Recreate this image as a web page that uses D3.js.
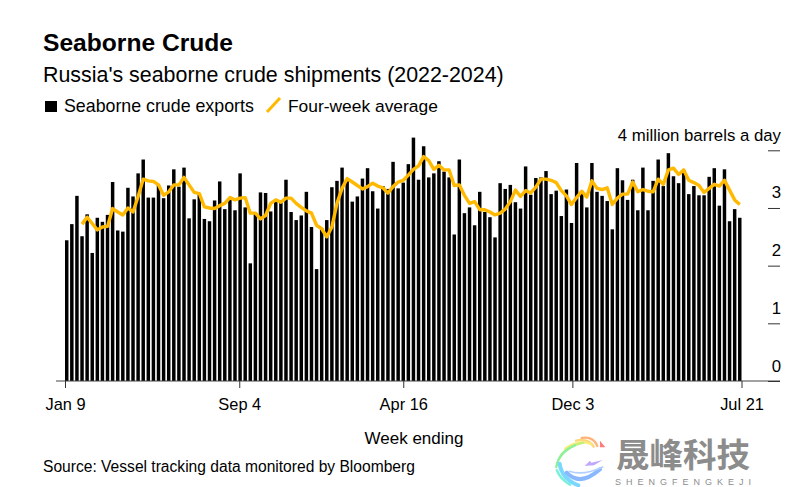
<!DOCTYPE html>
<html>
<head>
<meta charset="utf-8">
<script src="https://cdn.jsdelivr.net/npm/d3@7"></script>
<style>
	html, body { margin: 0; padding: 0; background: #fff; }
	svg { display: block; }
	text { font-family: "Liberation Sans", Arial, sans-serif; fill: #000; }
</style>
</head>
<body>
<svg width="806" height="487"></svg>
<script>
// Weekly exports, million barrels a day.
var exports_values = [
	2.44, 2.72, 3.21, 2.51, 2.89, 2.22, 2.83, 2.76, 2.88, 3.45, 2.61, 2.59, 3.35, 3.20, 3.60, 3.84, 3.18, 3.18, 3.40,
	3.17, 3.39, 3.67, 3.37, 3.70, 2.82, 3.15, 3.25, 2.81, 2.77, 3.13, 3.46, 2.98, 3.14, 2.96, 3.60, 3.01, 2.04, 2.92,
	3.27, 3.26, 2.94, 3.11, 3.09, 3.49, 2.93, 2.79, 2.87, 3.28, 2.67, 1.94, 2.65, 2.79, 3.36, 3.47, 3.70, 3.48, 3.11,
	3.20, 3.51, 3.69, 3.29, 2.99, 3.38, 3.33, 3.80, 3.34, 3.44, 3.76, 4.22, 3.49, 4.07, 3.53, 3.60, 3.81, 3.63, 3.53,
	2.54, 3.84, 2.91, 3.01, 2.70, 3.28, 2.93, 2.84, 2.49, 3.43, 3.33, 3.40, 3.10, 2.99, 3.72, 3.23, 3.52, 3.53, 3.64,
	3.24, 3.30, 2.86, 3.32, 2.74, 3.78, 3.25, 3.01, 3.78, 3.28, 3.21, 3.12, 2.63, 3.69, 3.48, 3.14, 3.49, 2.96, 3.70,
	2.96, 3.47, 3.84, 3.38, 3.95, 3.55, 3.43, 3.66, 3.24, 3.38, 3.22, 3.22, 3.54, 3.69, 3.04, 3.67, 2.77, 2.98, 2.83
];

// Four-week average. The first three weeks have no value.
var average_values = [
	null, null, null,
	2.72, 2.84, 2.73, 2.62, 2.67, 2.68, 2.99, 2.93, 2.88, 3.00, 2.93, 3.20, 3.50, 3.47, 3.46, 3.40, 3.22, 3.28, 3.40,
	3.40, 3.53, 3.40, 3.27, 3.25, 3.02, 3.00, 2.99, 3.04, 3.08, 3.18, 3.14, 3.17, 3.18, 2.91, 2.91, 2.81, 2.87, 3.08,
	3.14, 3.10, 3.17, 3.17, 3.08, 3.01, 2.95, 2.91, 2.70, 2.64, 2.50, 2.67, 3.08, 3.34, 3.51, 3.45, 3.39, 3.33, 3.37,
	3.43, 3.38, 3.35, 3.26, 3.37, 3.45, 3.48, 3.57, 3.67, 3.73, 3.89, 3.82, 3.67, 3.74, 3.66, 3.66, 3.39, 3.40, 3.22,
	3.08, 3.11, 2.97, 2.97, 2.93, 2.88, 2.91, 2.98, 3.11, 3.31, 3.20, 3.30, 3.26, 3.36, 3.50, 3.50, 3.48, 3.44, 3.30,
	3.21, 3.06, 3.18, 3.29, 3.19, 3.47, 3.34, 3.32, 3.35, 3.06, 3.17, 3.24, 3.24, 3.45, 3.28, 3.32, 3.29, 3.28, 3.50,
	3.41, 3.66, 3.69, 3.58, 3.66, 3.48, 3.44, 3.39, 3.27, 3.34, 3.41, 3.38, 3.48, 3.31, 3.14, 3.06
];

var x_tick_weeks = [0, 34, 66, 99, 132];
var x_tick_labels = ["Jan 9", "Sep 4", "Apr 16", "Dec 3", "Jul 21"];
var y_ticks = [0, 1, 2, 3, 4];
var y_tick_labels = ["0", "1", "2", "3", "4 million barrels a day"];

var svg = d3.select("svg");

// Scales.
var x = d3.scaleBand()
	.domain(d3.range(exports_values.length))
	.range([65, 741.5])
	.paddingInner(0.32);
var x_ticks = d3.scaleLinear().domain([0, 132]).range([65, 741.5]);
var y = d3.scaleLinear().domain([0, 4]).range([381, 150.3]);

// Bars.
svg.append("g")
	.selectAll("rect")
	.data(exports_values)
	.enter()
	.append("rect")
	.attr("x", function(d, i) { return x(i); })
	.attr("y", function(d) { return y(d); })
	.attr("width", x.bandwidth())
	.attr("height", function(d) { return y(0) - y(d); })
	.attr("fill", "#000");

// Baseline.
svg.append("line")
	.attr("x1", 56)
	.attr("x2", 780)
	.attr("y1", y(0))
	.attr("y2", y(0))
	.attr("stroke", "#444")
	.attr("stroke-width", 1);

// Four-week average.
var line = d3.line()
	.defined(function(d) { return d !== null; })
	.x(function(d, i) { return x(i) + x.bandwidth() / 2; })
	.y(function(d) { return y(d); });

svg.append("path")
	.datum(average_values)
	.attr("d", line)
	.attr("fill", "none")
	.attr("stroke", "#ffb900")
	.attr("stroke-width", 3.4)
	.attr("stroke-linejoin", "round");

// X axis.
var x_axis = svg.append("g")
	.attr("transform", "translate(0,381)")
	.call(d3.axisBottom(x_ticks)
		.tickValues(x_tick_weeks)
		.tickFormat(function(d, i) { return x_tick_labels[i]; })
		.tickSize(7)
		.tickPadding(10));
x_axis.select(".domain").remove();
x_axis.selectAll("line").attr("stroke", "#333");
x_axis.selectAll("text").style("font-size", "16.4px").style("font-family", "\"Liberation Sans\", Arial, sans-serif");

// Y axis. Labels sit on top of the tick marks.
var y_axis = svg.append("g")
	.attr("transform", "translate(768,0)")
	.call(d3.axisRight(y)
		.tickValues(y_ticks)
		.tickFormat(function(d, i) { return y_tick_labels[i]; })
		.tickSize(12));
y_axis.select(".domain").remove();
y_axis.selectAll("line").attr("stroke", "#333");
y_axis.selectAll("text")
	.attr("x", 13)
	.attr("dy", -10)
	.attr("text-anchor", "end")
	.style("font-size", "16.8px")
	.style("font-family", "\"Liberation Sans\", Arial, sans-serif");

// Title block.
svg.append("text").attr("x", 43).attr("y", 51).text("Seaborne Crude")
	.style("font-size", "24.6px").style("font-weight", "bold");
svg.append("text").attr("x", 43).attr("y", 82).text("Russia's seaborne crude shipments (2022-2024)")
	.style("font-size", "21.4px");

// Legend.
svg.append("rect").attr("x", 45).attr("y", 101).attr("width", 12).attr("height", 11).attr("fill", "#000");
svg.append("text").attr("x", 64).attr("y", 112).text("Seaborne crude exports").style("font-size", "17.8px");
svg.append("line").attr("x1", 267).attr("y1", 112).attr("x2", 280).attr("y2", 98)
	.attr("stroke", "#ffb900").attr("stroke-width", 3);
svg.append("text").attr("x", 288).attr("y", 112).text("Four-week average").style("font-size", "17.4px");

// Footer.
svg.append("text").attr("x", 414).attr("y", 444).attr("text-anchor", "middle").text("Week ending")
	.style("font-size", "17px");
svg.append("text").attr("x", 43).attr("y", 472).text("Source: Vessel tracking data monitored by Bloomberg")
	.style("font-size", "15.6px");

// Watermark logo, drawn at 3x and scaled down.
var logo_strokes = [
	["M95,18 Q130,12 142,42", "#ffb27a", 7],
	["M78,26 Q115,18 131,44", "#ffd77a", 7],
	["M45,50 Q85,22 122,36", "#f5ee7a", 7],
	["M28,80 Q42,45 100,32", "#c4f07a", 7],
	["M19,105 Q25,62 75,40", "#8ef09a", 7],
	["M21,115 Q30,140 60,158", "#7af0d8", 8],
	["M29,95 Q35,140 85,160", "#7ad8ff", 12],
	["M50,122 Q90,165 150,112", "#8ab8ff", 12],
	["M58,118 Q100,132 158,105", "#b0d0ff", 5]
];
var logo = svg.append("g").attr("transform", "translate(550,432) scale(0.3333)");
logo.selectAll("path")
	.data(logo_strokes)
	.enter()
	.append("path")
	.attr("d", function(d) { return d[0]; })
	.attr("stroke", function(d) { return d[1]; })
	.attr("stroke-width", function(d) { return d[2]; })
	.attr("stroke-linecap", "round")
	.attr("fill", "none");
logo.append("path").attr("d", "M150,26 L166,46 L150,46 Z").attr("fill", "#ff7a7a");
logo.append("path").attr("d", "M104,102 L120,86 L124,92 L158,84 L132,100 Z").attr("fill", "#c0a8ff");

// Watermark text.
svg.append("text").attr("x", 616).attr("y", 467).text("晟峰科技")
	.style("font-family", "\"Noto Sans CJK SC\"").style("font-size", "33.5px").style("font-weight", "bold")
	.style("fill", "#8c8c8c");
svg.append("text").attr("x", 615).attr("y", 485).text("SHENGFENGKEJI")
	.style("font-size", "9px").style("letter-spacing", "5px").style("fill", "#8c8c8c");
</script>
</body>
</html>
